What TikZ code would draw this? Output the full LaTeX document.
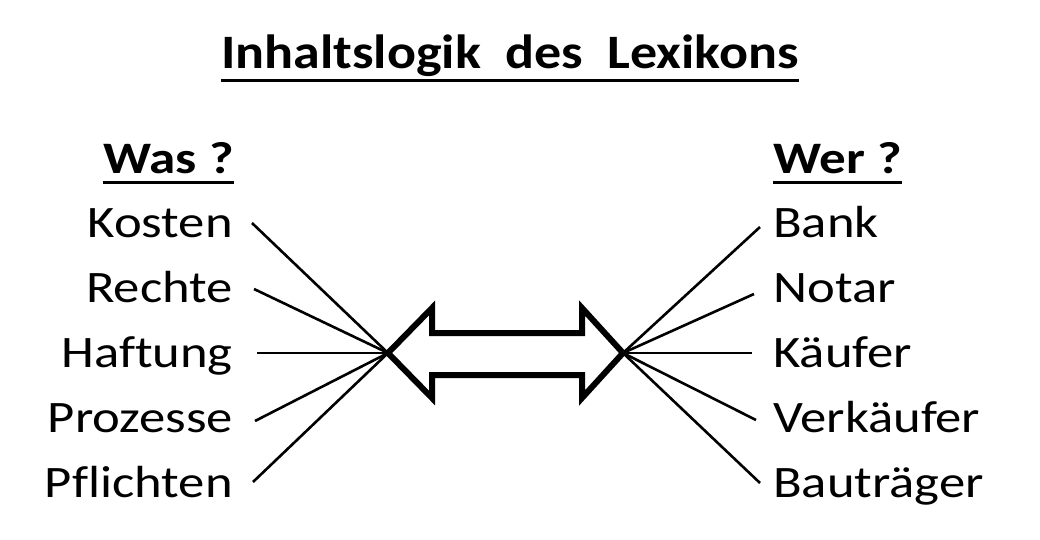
\documentclass[tikz,border=0pt]{standalone}
\usepackage{fontspec}
\setmainfont[Ligatures=NoCommon]{Carlito}
\begin{document}
\begin{tikzpicture}[x=1pt,y=-1pt,
  item/.style={font=\fontsize{45}{45}\selectfont, inner sep=0pt, xscale=1.17},
  head/.style={font=\fontsize{45}{45}\selectfont\bfseries, inner sep=0pt, xscale=1.18},
  ttl/.style={font=\fontsize{48}{48}\selectfont\bfseries, inner sep=0pt, xscale=1.125},
  uline/.style={line width=3pt},
  conn/.style={line width=2.6pt},
  bigarrow/.style={line width=6pt, line join=miter}]
\useasboundingbox (0,0) rectangle (1040,540);
% title
\node[ttl, anchor=base] (title) at (510,69) {Inhaltslogik\ \ des\ \ Lexikons};
\draw[uline] ([yshift=-12pt]title.base west) -- ([yshift=-12pt]title.base east);
% headers
\node[head, anchor=base east] (was) at (234,173) {Was ?};
\draw[uline] ([yshift=-9pt]was.base west) -- ([yshift=-9pt]was.base east);
\node[head, anchor=base west] (wer) at (773,173) {Wer ?};
\draw[uline] ([yshift=-9pt]wer.base west) -- ([yshift=-9pt]wer.base east);
% left items
\node[item, anchor=base east] (kosten) at (233,237) {Kosten};
\node[item, anchor=base east] (rechte) at (233,302) {Rechte};
\node[item, anchor=base east] (haftung) at (233,367) {Haftung};
\node[item, anchor=base east] (prozesse) at (233,432) {Prozesse};
\node[item, anchor=base east] (pflichten) at (233,497) {Pflichten};
% right items
\node[item, anchor=base west] (bank) at (773,237) {Bank};
\node[item, anchor=base west] (notar) at (773,302) {Notar};
\node[item, anchor=base west] (kaeufer) at (773,367) {Käufer};
\node[item, anchor=base west] (verkaeufer) at (773,432) {Verkäufer};
\node[item, anchor=base west] (bautraeger) at (773,497) {Bauträger};
% arrow
\draw[bigarrow] (388,353) coordinate (L) -- (432,308) -- (432,333) -- (582,333) -- (582,308)
  -- (623,353) coordinate (R) -- (582,398) -- (582,375) -- (432,375) -- (432,398) -- cycle;
% connector ends
\coordinate (k1) at (252,223);
\coordinate (r1) at (254,289);
\coordinate (h1) at (257,353);
\coordinate (p1) at (255,421);
\coordinate (f1) at (253,482);
\coordinate (b1) at (760,227);
\coordinate (n1) at (754,294);
\coordinate (ka1) at (752,353);
\coordinate (v1) at (756,420);
\coordinate (bt1) at (760,483);
\foreach \c in {k1,r1,h1,p1,f1} \draw[conn] (\c) -- (L);
\foreach \c in {b1,n1,ka1,v1,bt1} \draw[conn] (R) -- (\c);
\end{tikzpicture}
\end{document}
